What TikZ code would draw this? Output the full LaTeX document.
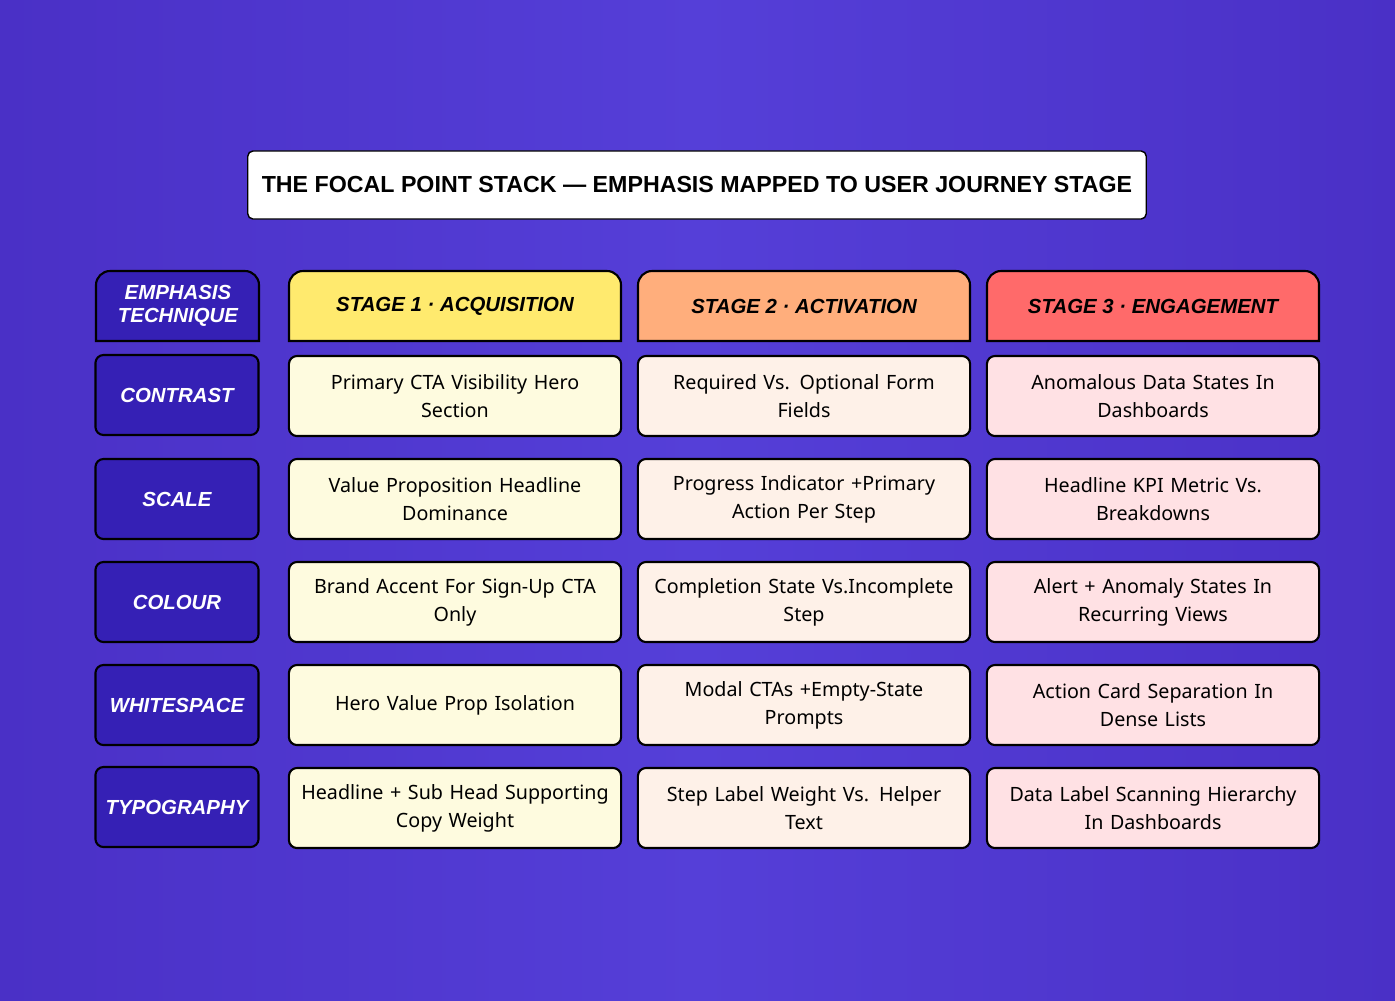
\documentclass[tikz,border=0pt]{standalone}
\usepackage{fontspec}
\setmainfont{Noto Sans}
\newfontfamily\headfont{Liberation Sans}
\definecolor{bgL}{HTML}{4A30C6}
\definecolor{bgM}{HTML}{553FD8}
\definecolor{labfill}{HTML}{3520B5}
\definecolor{hdA}{HTML}{FFEA6E}
\definecolor{hdB}{HTML}{FFAE7C}
\definecolor{hdC}{HTML}{FF6A6A}
\definecolor{cellA}{HTML}{FEFBDF}
\definecolor{cellB}{HTML}{FEF1E8}
\definecolor{cellC}{HTML}{FFE1E4}
\tikzset{
  cell/.style={draw=black, line width=0.6pt, rounded corners=2.3pt,
    minimum width=3.32cm, minimum height=0.8cm, align=center, text width=3.25cm,
    inner sep=0pt, font=\fontsize{5.6}{7.9}\selectfont},
  techbox/.style={draw=black, line width=0.6pt, rounded corners=2.3pt, fill=labfill,
    minimum width=1.63cm, minimum height=0.8cm, align=center, text=white,
    inner sep=0pt, font=\headfont\fontsize{5.8}{6.6}\selectfont\bfseries\itshape},
  headtext/.style={font=\headfont\fontsize{5.8}{6.6}\selectfont\bfseries\itshape}
}
\begin{document}
\begin{tikzpicture}[x=0.01cm,y=-0.01cm]
  % fond
  \shade[left color=bgL, right color=bgL, middle color=bgM] (0,0) rectangle (1395,1000);
  \useasboundingbox (0,0) rectangle (1395,1000);
  % titre
  \node[draw=black, fill=white, rounded corners=1.5pt, line width=0.4pt,
        minimum width=8.98cm, minimum height=0.68cm, inner sep=0pt,
        font=\headfont\fontsize{6.6}{8}\selectfont\bfseries] (title) at (697,185)
        {THE FOCAL POINT STACK — EMPHASIS MAPPED TO USER JOURNEY STAGE};
  % en-tetes
  \draw[line width=0.6pt, fill=labfill, rounded corners=4pt] (96,341) -- (96,271) -- (259,271) [sharp corners] -- (259,341) -- cycle;
  \node[text=white, align=center, font=\headfont\fontsize{5.8}{6.6}\selectfont\bfseries\itshape] (hd0) at (178,306) {EMPHASIS\\TECHNIQUE};
  \foreach \c/\xa/\col/\txt in {1/289/hdA/STAGE 1 · ACQUISITION, 2/638/hdB/STAGE 2 · ACTIVATION, 3/987/hdC/STAGE 3 · ENGAGEMENT}
  {
    \draw[line width=0.6pt, fill=\col, rounded corners=4pt] (\xa,341) -- (\xa,271) -- (\xa+332,271) [sharp corners] -- (\xa+332,341) -- cycle;
    \node[headtext] (hd\c) at (\xa+166,306) {\txt};
  }
  % lignes
  \foreach \r/\y/\tech in {1/395/CONTRAST, 2/499/SCALE, 3/602/COLOUR, 4/705/WHITESPACE, 5/807/TYPOGRAPHY}
    \node[techbox] (tech\r) at (177,\y) {\tech};
  \foreach \r/\y/\ta/\tb/\tc in {
    1/396/{Primary CTA Visibility Hero\\Section}/{Required Vs. Optional Form\\Fields}/{Anomalous Data States In\\Dashboards},
    2/499/{Value Proposition Headline\\Dominance}/{Progress Indicator +Primary\\Action Per Step}/{Headline KPI Metric Vs.\\Breakdowns},
    3/602/{Brand Accent For Sign-Up CTA\\Only}/{Completion State Vs.Incomplete\\Step}/{Alert + Anomaly States In\\Recurring Views},
    4/705/{Hero Value Prop Isolation}/{Modal CTAs +Empty-State\\Prompts}/{Action Card Separation In\\Dense Lists},
    5/808/{Headline + Sub Head Supporting\\Copy Weight}/{Step Label Weight Vs. Helper\\Text}/{Data Label Scanning Hierarchy\\In Dashboards}}
  {
    \node[cell, fill=cellA] (cell\r a) at (455,\y) {\ta};
    \node[cell, fill=cellB] (cell\r b) at (804,\y) {\tb};
    \node[cell, fill=cellC] (cell\r c) at (1153,\y) {\tc};
  }
\end{tikzpicture}
\end{document}
